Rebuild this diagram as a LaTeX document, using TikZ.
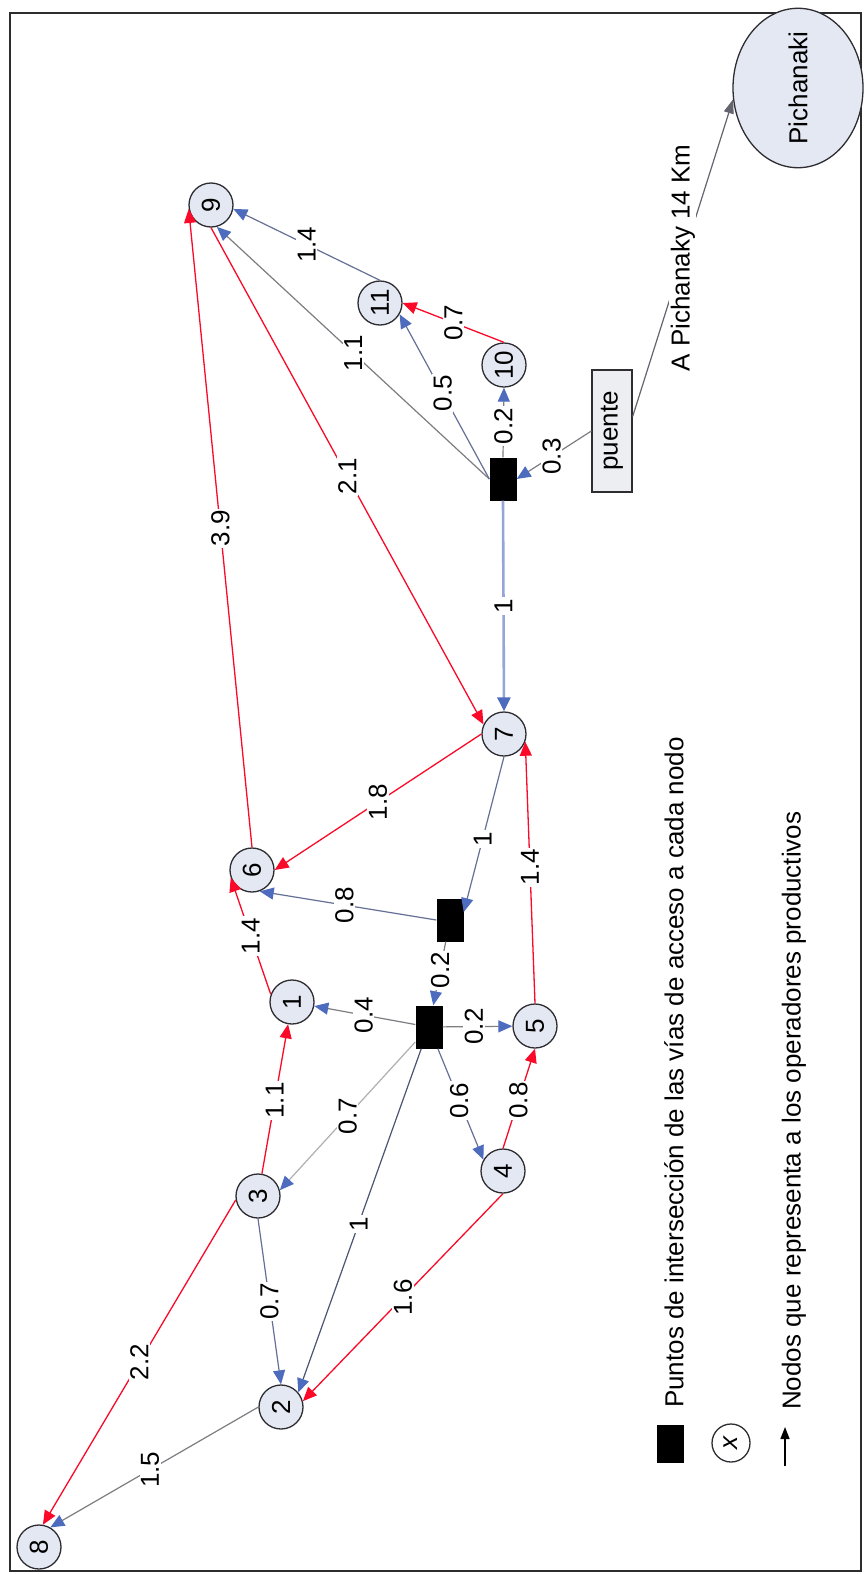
\documentclass[tikz,border=0pt]{standalone}
\usepackage{fontspec}
\setmainfont{Liberation Sans}
\usetikzlibrary{arrows.meta,shapes.geometric}

\definecolor{arcred}{RGB}{250,10,40}
\definecolor{tipblue}{RGB}{78,108,190}
\definecolor{greyblue}{RGB}{100,112,150}
\definecolor{linegrey}{RGB}{125,125,130}
\definecolor{palegrey}{RGB}{175,175,178}
\definecolor{darkslate}{RGB}{75,85,115}
\definecolor{mainblue}{RGB}{150,165,215}
\definecolor{nodefill}{RGB}{228,232,242}
\definecolor{nodeline}{RGB}{45,45,50}
\definecolor{boxfill}{RGB}{236,238,242}
\definecolor{framegrey}{RGB}{45,45,45}
\definecolor{pichline}{RGB}{100,100,110}

\begin{document}
\begin{tikzpicture}[x=1pt,y=-1pt,
  font=\fontsize{26}{30}\selectfont,
  op/.style={circle,draw=nodeline,line width=1.3pt,fill=nodefill,minimum size=44pt,inner sep=0pt},
  junction/.style={rectangle,fill=black,minimum width=27pt,minimum height=43pt,inner sep=0pt},
  wt/.style={rotate=90,fill=white,inner sep=1.5pt},
  road/.style={draw=#1,line width=1.2pt,-{Triangle[length=14pt,width=12pt,color=tipblue]}},
  redroad/.style={draw=arcred,line width=1.3pt,-{Triangle[length=14pt,width=12pt,color=arcred]}},
  mainroad/.style={draw=mainblue,line width=2.6pt,-{Triangle[length=14pt,width=13pt,color=tipblue]}}
]
% canvas and frame
\fill[white] (0,0) rectangle (864,1574);
\useasboundingbox (0,0) rectangle (864,1574);
\draw[framegrey,line width=2pt] (10,13) rectangle (861,1571);

% productive operators
\node[op] (n9)  at (211,205)  {\rotatebox{90}{9}};
\node[op] (n11) at (380,303)  {\rotatebox{90}{11}};
\node[op] (n10) at (504,365)  {\rotatebox{90}{10}};
\node[op] (n7)  at (504,734)  {\rotatebox{90}{7}};
\node[op] (n6)  at (252,870)  {\rotatebox{90}{6}};
\node[op] (n1)  at (292,1002) {\rotatebox{90}{1}};
\node[op] (n5)  at (535,1026) {\rotatebox{90}{5}};
\node[op] (n3)  at (258,1196) {\rotatebox{90}{3}};
\node[op] (n4)  at (503,1171) {\rotatebox{90}{4}};
\node[op] (n2)  at (281,1407) {\rotatebox{90}{2}};
\node[op] (n8)  at (39,1547)  {\rotatebox{90}{8}};

% road intersections
\node[junction] (A) at (503,479)  {};
\node[junction] (B) at (450,920)  {};
\node[junction] (C) at (429,1027) {};

% bridge and town
\node[draw=nodeline,fill=boxfill,line width=1.3pt,minimum width=40pt,minimum height=122pt,inner sep=0pt] (puente) at (612,431) {\rotatebox{90}{puente}};
\node[ellipse,draw=nodeline,fill=nodefill,line width=1.3pt,minimum width=130pt,minimum height=140pt,inner sep=0pt] (pich) at (798,88) {\rotatebox{90}{Pichanaki}};

% connections
\draw[road=greyblue] (n11.north) -- node[wt,pos=0.5]{1.4} (n9.350);
\draw[road=linegrey] (A.west) -- node[wt,pos=0.5]{1.1} (n9.285);
\draw[redroad] (n9.270) -- node[wt,pos=0.5]{2.1} (n7.155);
\draw[redroad] (n6.north) -- node[wt,pos=0.5]{3.9} (n9.190);
\draw[redroad] (n10.north) -- node[wt,pos=0.5]{0.7} (n11.east);
\draw[road=greyblue] (A.west) -- node[wt,pos=0.52]{0.5} (n11.330);
\draw[road=linegrey] (A.north) -- node[wt,pos=0.45]{0.2} (n10.south);
\draw[road=linegrey] (puente.west) -- node[wt,pos=0.53]{0.3} (A.east);
\draw[draw=pichline,line width=1.2pt,-{Triangle[length=14pt,width=10pt,color=pichline]}]
  (puente.35) -- node[wt,pos=0.5]{A Pichanaky 14 Km} (pich.190);
\draw[mainroad] (A.south) -- node[wt,pos=0.5]{1} (n7.north);
\draw[redroad] (n7.west) -- node[wt,pos=0.5]{1.8} (n6.east);
\draw[road=greyblue] (n7.south) -- node[wt,pos=0.53]{1} (B.30);
\draw[redroad] (n5.north) -- node[wt,pos=0.52]{1.4} (n7.340);
\draw[road=greyblue] (B.west) -- node[wt,pos=0.52]{0.8} (n6.290);
\draw[redroad] (n1.160) -- node[wt,pos=0.5]{1.4} (n6.200);
\draw[road=linegrey] (B) -- node[wt,pos=0.45]{0.2} (C);
\draw[road=linegrey] (C) -- node[wt,pos=0.51]{0.4} (n1);
\draw[road=linegrey] (C) -- node[wt,pos=0.45]{0.2} (n5);
\draw[redroad] (n3) -- node[wt,pos=0.49]{1.1} (n1);
\draw[road=palegrey] (C) -- node[wt,pos=0.5]{0.7} (n3.15);
\draw[road=greyblue] (C) -- node[wt,pos=0.47]{0.6} (n4.150);
\draw[redroad] (n4.north) -- node[wt,pos=0.48]{0.8} (n5.south);
\draw[road=darkslate] (C) -- node[wt,pos=0.51]{1} (n2.40);
\draw[road=greyblue] (n3.south) -- node[wt,pos=0.5]{0.7} (n2.north);
\draw[redroad] (n4.south) -- node[wt,pos=0.5]{1.6} (n2.15);
\draw[redroad] (n3.190) -- node[wt,pos=0.5]{2.2} (n8.80);
\draw[road=linegrey] (n2.west) -- node[wt,pos=0.52]{1.5} (n8.60);

% legend
\node[junction,minimum height=38pt] (legsq) at (670,1444) {};
\node[circle,draw=nodeline,line width=1.3pt,fill=white,minimum size=38pt,inner sep=0pt] (legop) at (731,1443) {\rotatebox{90}{\itshape x}};
\coordinate (legtail) at (785,1466);
\coordinate (leghead) at (785,1427);
\draw[black,line width=1.5pt,-{Triangle[length=12pt,width=9pt]}] (legtail) -- (leghead);
\node[rotate=90,anchor=west,inner sep=0pt] (legtxt1) at (674,1408) {Puntos de intersección de las vías de acceso a cada nodo};
\node[rotate=90,anchor=west,inner sep=0pt] (legtxt2) at (794,1410) {Nodos que representa a los operadores productivos};
\end{tikzpicture}
\end{document}
